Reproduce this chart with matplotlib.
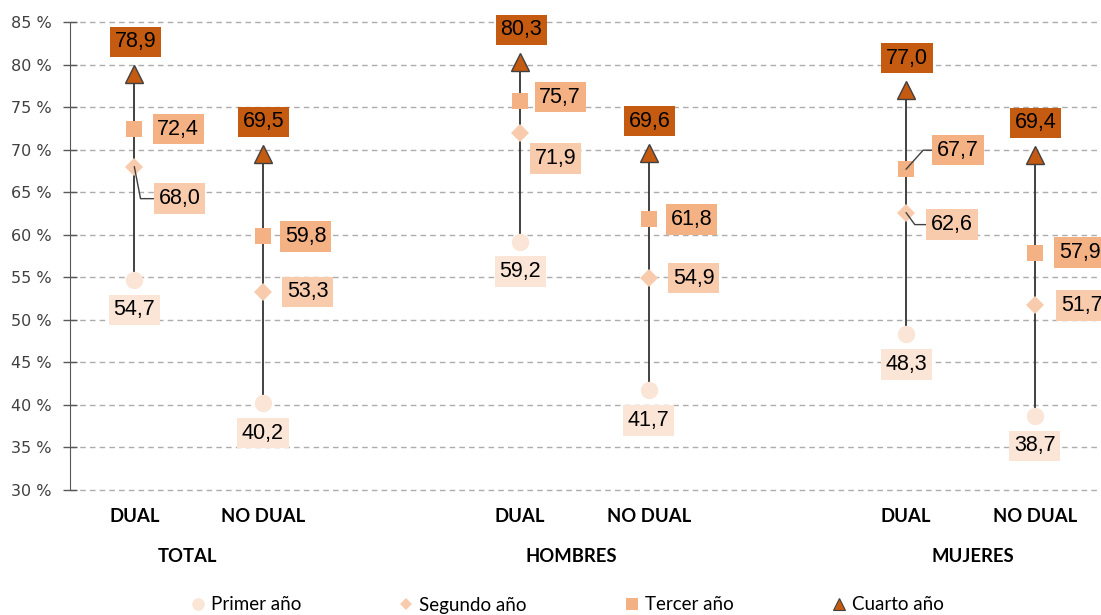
import matplotlib.pyplot as plt
import matplotlib.transforms as mtransforms
from matplotlib.lines import Line2D

groups = ['TOTAL', 'HOMBRES', 'MUJERES']
subgroups = ['DUAL', 'NO DUAL']
series_names = ['Primer año', 'Segundo año', 'Tercer año', 'Cuarto año']

primer = [54.7, 40.2, 59.2, 41.7, 48.3, 38.7]
segundo = [68.0, 53.3, 71.9, 54.9, 62.6, 51.7]
tercer = [72.4, 59.8, 75.7, 61.8, 67.7, 57.9]
cuarto = [78.9, 69.5, 80.3, 69.6, 77.0, 69.4]

colors = ['#FBE5D6', '#F8CBAD', '#F4B183', '#C55A11']
markers = ['o', 'D', 's', '^']
msizes = [12.5, 9.0, 12.0, 13.5]

# label offsets in pixels (dx, dy) and whether a leader line is drawn
offsets = [
    [(0, -30)] * 6,
    [(45, -32), (45, 0), (35, -25), (45, 0), (46, -12), (47, 0)],
    [(44, 0), (43, 0), (40, 4), (43, 0), (52, 19), (45, 0)],
    [(1, 32)] * 6,
]
leaders = {(1, 0): 101, (1, 4): 126, (2, 4): 48}

x = [g * 3 + s for g in range(len(groups)) for s in range(len(subgroups))]
values = [primer, segundo, tercer, cuarto]

fig = plt.figure(figsize=(11.01, 6.15), dpi=100)
ax = fig.add_axes([70 / 1101, 1 - 490 / 615, (1099 - 70) / 1101, 468 / 615])
ax.set_xlim(-0.5, 7.5)
ax.set_ylim(30, 85)

yt = list(range(30, 90, 5))
ax.set_yticks(yt)
ax.set_yticklabels([f'{t} %' for t in yt], family='DejaVu Sans')
ax.tick_params(axis='y', direction='inout', length=10, width=1, color='#595959',
               labelsize=11.5, labelcolor='#404040', pad=8)
ax.set_xticks([])
ax.yaxis.grid(True, linestyle=(0, (4, 3)), color='#ADADAD', lw=1)
for gl in ax.yaxis.get_gridlines():
    gl.set_clip_on(False)
ax.set_axisbelow(True)
for side in ['top', 'right', 'bottom']:
    ax.spines[side].set_visible(False)
ax.spines['left'].set_color('#595959')

lo = [min(v) for v in zip(*values)]
hi = [max(v) for v in zip(*values)]
ax.vlines(x, lo, hi, color='#333333', lw=1.3, zorder=2)

for i, vals in enumerate(values):
    edge = '#404040' if markers[i] == '^' else colors[i]
    ax.plot(x, vals, ls='none', marker=markers[i], ms=msizes[i], color=colors[i],
            mec=edge, mew=1 if markers[i] == '^' else 0, zorder=3)
    for j, v in enumerate(vals):
        dx, dy = offsets[i][j]
        kw = {}
        if (i, j) in leaders:
            kw['arrowprops'] = dict(arrowstyle='-', color='#404040', lw=1,
                                    shrinkA=0, shrinkB=0, relpos=(0, 0.5),
                                    connectionstyle=f'angle,angleA=0,angleB={leaders[(i, j)]},rad=0')
        ax.annotate(f'{v:.1f}'.replace('.', ','), xy=(x[j], v), xytext=(dx, dy),
                    textcoords='offset pixels', ha='center', va='center',
                    fontsize=15.5, family='Liberation Sans', color='black',
                    bbox=dict(boxstyle='square,pad=0.22', fc=colors[i], ec='none'),
                    zorder=4, annotation_clip=False, **kw)

trans = mtransforms.blended_transform_factory(ax.transData, fig.transFigure)
for k, xi in enumerate(x):
    ax.text(xi, 1 - 517 / 615, subgroups[k % 2], transform=trans, ha='center', va='center',
            fontsize=13.3, fontweight='bold', family='Lato', color='black')
group_x = [0.41, 3.40, 6.52]
for gx, g in zip(group_x, groups):
    ax.text(gx, 1 - 557 / 615, g, transform=trans, ha='center', va='center',
            fontsize=13.3, fontweight='bold', family='Lato', color='black')

handles = []
for i in range(4):
    handles.append(Line2D([], [], ls='none', marker=markers[i], color=colors[i],
                          ms=[9, 6.5, 9, 9][i],
                          mec='#404040' if markers[i] == '^' else colors[i],
                          mew=0.8 if markers[i] == '^' else 0))
fig.legend(handles, series_names, ncol=4, loc='center', bbox_to_anchor=(0.515, 1 - 605 / 615),
           frameon=False, prop={'family': 'Lato', 'size': 13.5}, handlelength=0.8,
           handletextpad=0.3, columnspacing=5.2, borderaxespad=0)

fig.savefig('out.png', dpi=100)
